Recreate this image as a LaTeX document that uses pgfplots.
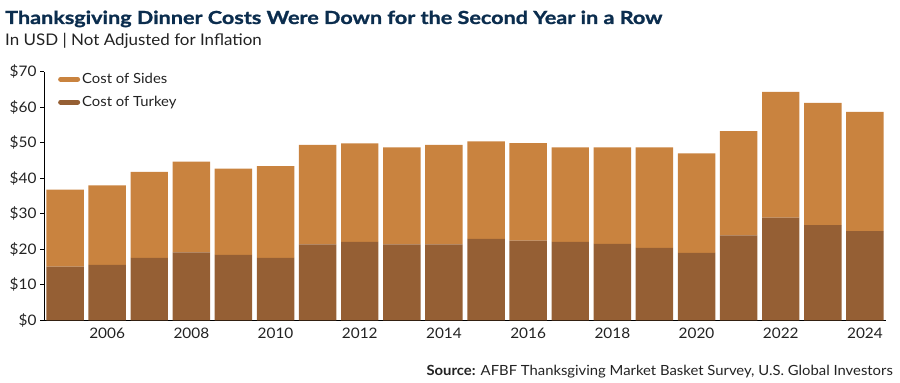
\documentclass[border=0pt]{standalone}
\usepackage{fontspec}
\setmainfont{Lato}
\newfontfamily\titlefont[FakeStretch=1.2, FakeBold=1.2]{Lato}
\newfontfamily\subfont[FakeStretch=1.06]{Lato}
\usepackage{pgfplots}
\pgfplotsset{compat=1.18}
\definecolor{sidesc}{HTML}{C9833F}
\definecolor{turkeyc}{HTML}{955F34}
\definecolor{titlec}{HTML}{0B2D4E}
\definecolor{txtc}{HTML}{222222}
\pgfplotsset{lineleg/.style={legend image code/.code={\draw[line width=5pt, line cap=round, ##1] (1pt,0pt) -- (18pt,0pt);}}}
\begin{document}
\begin{tikzpicture}
\useasboundingbox (0,0) rectangle (900pt,383pt);
\node[anchor=base west, text=titlec, font=\titlefont\fontsize{18}{20}\selectfont\bfseries, inner sep=0pt] at (5pt,359pt) {Thanksgiving Dinner Costs Were Down for the Second Year in a Row};
\node[anchor=base west, text=txtc, font=\subfont\fontsize{16}{18}\selectfont, inner sep=0pt] at (5pt,337pt) {In USD | Not Adjusted for Inflation};
\node[anchor=base east, text=txtc, font=\subfont\fontsize{14}{16}\selectfont, inner sep=0pt] at (893pt,7pt) {\textbf{Source:} AFBF Thanksgiving Market Basket Survey, U.S. Global Investors};
\begin{axis}[
  at={(44pt,62.7pt)}, anchor=south west,
  scale only axis, width=842pt, height=248.6pt,
  xmin=2004.5, xmax=2024.5, ymin=0, ymax=70,
  ybar stacked, bar width=0.89,
  axis x line*=bottom, axis y line*=left,
  axis line style={black, line width=0.8pt},
  xtick={2006,2008,...,2024}, xtick style={draw=none},
  ytick={0,10,...,70},
  yticklabel={\$\pgfmathprintnumber{\tick}},
  ytick style={black, line width=0.8pt},
  tick align=outside, major tick length=4pt,
  /pgf/number format/1000 sep={},
  /pgf/number format/assume math mode=true,
  tick label style={font=\subfont\fontsize{14.5}{16}\selectfont, text=txtc},
  legend style={at={(0.013,1.01)}, anchor=north west, draw=none, fill=none,
    font=\subfont\fontsize{14}{16}\selectfont, text=txtc, row sep=7pt,
    legend cell align=left},
]
\addlegendimage{lineleg, color=sidesc}
\addlegendentry{Cost of Sides}
\addlegendimage{lineleg, color=turkeyc}
\addlegendentry{Cost of Turkey}
\addplot[fill=turkeyc, draw=none, forget plot] coordinates {
(2005,15.1) (2006,15.6) (2007,17.6) (2008,19.1) (2009,18.4) (2010,17.6)
(2011,21.4) (2012,22.1) (2013,21.4) (2014,21.4) (2015,22.9) (2016,22.4)
(2017,22.1) (2018,21.5) (2019,20.4) (2020,19.0) (2021,23.9) (2022,28.9)
(2023,26.8) (2024,25.1)};
\addplot[fill=sidesc, draw=none, forget plot] coordinates {
(2005,21.7) (2006,22.4) (2007,24.2) (2008,25.6) (2009,24.3) (2010,25.8)
(2011,28.0) (2012,27.7) (2013,27.3) (2014,28.0) (2015,27.5) (2016,27.5)
(2017,26.6) (2018,27.2) (2019,28.3) (2020,28.0) (2021,29.4) (2022,35.4)
(2023,34.4) (2024,33.6)};
\end{axis}
\end{tikzpicture}
\end{document}
